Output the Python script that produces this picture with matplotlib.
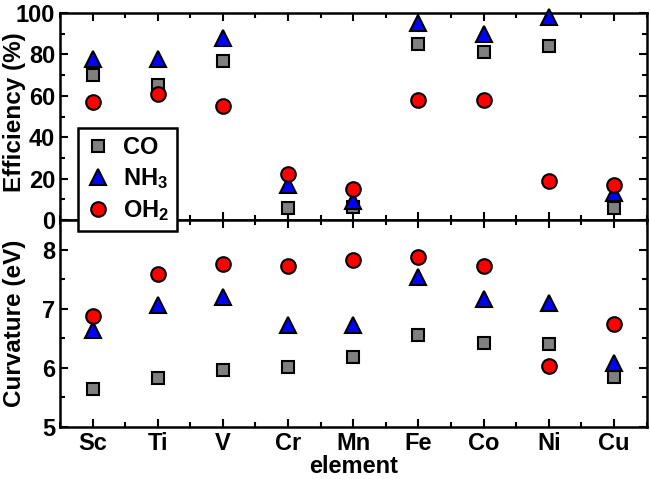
import matplotlib

matplotlib.use("Agg")
import matplotlib.pyplot as plt
from matplotlib.ticker import MultipleLocator

ELEMENTS = ["Sc", "Ti", "V", "Cr", "Mn", "Fe", "Co", "Ni", "Cu"]

# efficiency (%)
EFF_CO = [70, 65, 77, 6, 6.5, 85, 81, 84, 6]
EFF_NH3 = [78, 78, 88, 17, 9, 95, 90, 98, 13]
EFF_OH2 = [57, 61, 55, 22, 15, 58, 58, 19, 17]

# curvature (eV)
CURV_CO = [5.65, 5.83, 5.97, 6.01, 6.19, 6.55, 6.42, 6.40, 5.85]
CURV_NH3 = [6.64, 7.06, 7.19, 6.73, 6.72, 7.54, 7.16, 7.10, 6.09]
CURV_OH2 = [6.87, 7.58, 7.76, 7.72, 7.83, 7.87, 7.73, 6.03, 6.74]

plt.rcParams["font.family"] = ["Liberation Sans", "DejaVu Sans"]
plt.rcParams["font.weight"] = "bold"
plt.rcParams["mathtext.fontset"] = "custom"
plt.rcParams["mathtext.rm"] = "Liberation Sans:bold"
plt.rcParams["mathtext.default"] = "rm"

STYLES = [
    ("CO", "s", "#808080", 9),
    ("NH$_3$", "^", "#0000ff", 11.5),
    ("OH$_2$", "o", "#ff0000", 10.5),
]

W, H = 650, 479
fig = plt.figure(figsize=(W / 100, H / 100), dpi=100)
left, right = 60 / W, 646.5 / W
ax1 = fig.add_axes([left, 1 - 220 / H, right - left, 207 / H])
ax2 = fig.add_axes([left, 1 - 427 / H, right - left, 207 / H])

x = list(range(len(ELEMENTS)))
for ax, series in ((ax1, (EFF_CO, EFF_NH3, EFF_OH2)), (ax2, (CURV_CO, CURV_NH3, CURV_OH2))):
    for (label, marker, color, ms), vals in zip(STYLES, series):
        ax.plot(x, vals, ls="none", marker=marker, ms=ms, mfc=color, mec="black", mew=1.5,
                label=label, clip_on=False, zorder=3)
    ax.set_xlim(-0.5, 8.5)
    ax.set_xticks(x)
    ax.xaxis.set_minor_locator(MultipleLocator(0.5))
    ax.tick_params(which="both", direction="in", top=True, right=True, width=1.5, labelsize=17)
    ax.tick_params(which="major", length=6)
    ax.tick_params(which="minor", length=3.5)
    for s in ax.spines.values():
        s.set_linewidth(1.8)

ax1.set_ylim(0, 100)
ax1.yaxis.set_major_locator(MultipleLocator(20))
ax1.yaxis.set_minor_locator(MultipleLocator(10))
ax1.tick_params(labelbottom=False)
ax1.set_ylabel("Efficiency (%)", fontsize=17.5, fontweight="bold")
ax1.yaxis.set_label_coords(-0.058, 0.52)

ax2.set_ylim(5, 8.5)
ax2.yaxis.set_major_locator(MultipleLocator(1))
ax2.yaxis.set_minor_locator(MultipleLocator(0.5))
ax2.set_xticklabels(ELEMENTS)
ax2.set_ylabel("Curvature (eV)", fontsize=17.5, fontweight="bold")
ax2.yaxis.set_label_coords(-0.058, 0.5)
ax2.set_xlabel("element", fontsize=17, fontweight="bold", labelpad=0)

h, l = ax1.get_legend_handles_labels()
leg = fig.legend(h, l, loc="upper left", bbox_to_anchor=(78 / W, 1 - 128 / H), fontsize=17,
                 numpoints=1, fancybox=False, framealpha=1, edgecolor="black",
                 handlelength=1.0, handletextpad=0.55, labelspacing=0.3, borderpad=0.35,
                 borderaxespad=0)
leg.get_frame().set_linewidth(1.8)

fig.savefig("out.png", dpi=100)
